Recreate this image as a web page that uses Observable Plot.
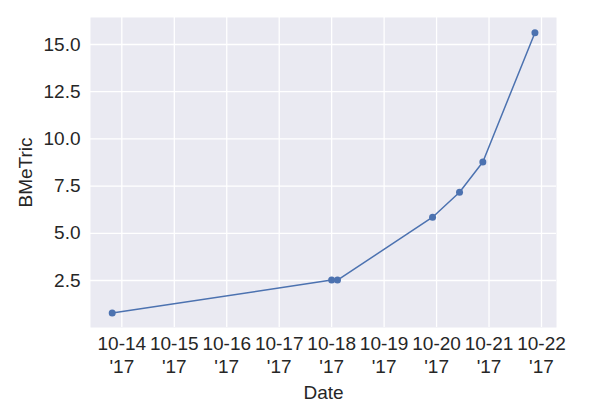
<!DOCTYPE html>
<html>
<head>
<meta charset="utf-8">
<script src="https://cdn.jsdelivr.net/npm/d3@7"></script>
<script src="https://cdn.jsdelivr.net/npm/@observablehq/plot@0.6"></script>
<style>
  html, body { margin: 0; padding: 0; background: white; }
</style>
</head>
<body>
<div id="chart"></div>
<script>
const dates = ["2017-10-13T19:36Z","2017-10-18T00:00Z","2017-10-18T02:40Z","2017-10-19T22:10Z","2017-10-20T10:30Z","2017-10-20T21:10Z","2017-10-21T21:00Z"];
const values = [0.78, 2.52, 2.52, 5.85, 7.17, 8.78, 15.62];
const xTickDates = ["2017-10-14","2017-10-15","2017-10-16","2017-10-17","2017-10-18","2017-10-19","2017-10-20","2017-10-21","2017-10-22"];
const yTicks = [2.5, 5.0, 7.5, 10.0, 12.5, 15.0];

const data = dates.map((d, i) => ({date: new Date(d), value: values[i]}));
const xTicks = xTickDates.map(d => new Date(d + "T00:00Z"));
const fmtX = d => d3.utcFormat("%m-%d")(d) + "\n'" + d3.utcFormat("%y")(d);

const textColor = "#262626";
const fs = 19;
const chart = Plot.plot({
  width: 600,
  height: 420,
  marginLeft: 90,
  marginRight: 44,
  marginTop: 17,
  marginBottom: 93,
  style: {background: "white", fontFamily: "'Liberation Sans', Arial, sans-serif", fontSize: fs + "px", color: textColor},
  x: {type: "utc", domain: [new Date("2017-10-13T09:40Z"), new Date("2017-10-22T06:52Z")]},
  y: {domain: [0.01, 16.43]},
  marks: [
    Plot.frame({fill: "#EAEAF2", stroke: null}),
    Plot.gridX(xTicks, {stroke: "white", strokeOpacity: 1, strokeWidth: 1.3}),
    Plot.gridY(yTicks, {stroke: "white", strokeOpacity: 1, strokeWidth: 1.3}),
    Plot.axisX(xTicks, {tickFormat: fmtX, tickSize: 0, tickPadding: 7, fontSize: fs, lineHeight: 1.17, fill: textColor, label: null}),
    Plot.axisY(yTicks, {tickFormat: d3.format(".1f"), tickSize: 0, tickPadding: 10, fontSize: fs, fill: textColor, label: null}),
    Plot.text(["Date"], {frameAnchor: "bottom", dy: 71, fontSize: fs, fill: textColor}),
    Plot.text(["BMeTric"], {frameAnchor: "left", textAnchor: "middle", dx: -65, rotate: -90, fontSize: fs, fill: textColor}),
    Plot.line(data, {x: "date", y: "value", stroke: "#4C72B0", strokeWidth: 1.5}),
    Plot.dot(data, {x: "date", y: "value", r: 3.5, fill: "#4C72B0", stroke: null})
  ]
});
document.getElementById("chart").appendChild(chart);
</script>
</body>
</html>
